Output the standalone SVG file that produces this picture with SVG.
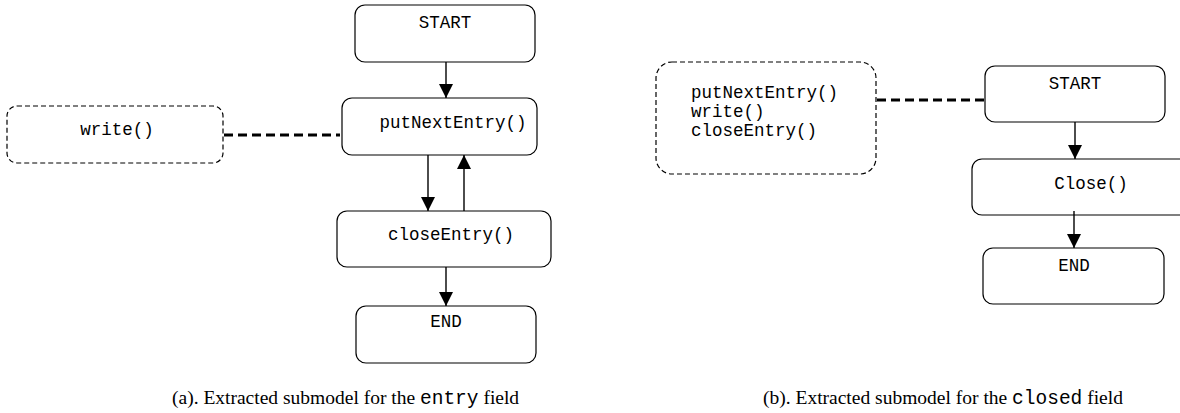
<svg xmlns="http://www.w3.org/2000/svg" width="1180" height="413" viewBox="0 0 1180 413">
  <defs>
    <marker id="arrow" viewBox="0 0 14 14" refX="14" refY="7" markerWidth="14" markerHeight="14" markerUnits="userSpaceOnUse" orient="auto">
      <path d="M0,0 L14,7 L0,14 Z" fill="#000"/>
    </marker>
    <style>
      .state { fill: #fff; stroke: #000; stroke-width: 1.2; }
      .note { fill: #fff; stroke: #000; stroke-width: 1.2; stroke-dasharray: 5 3; }
      .label { font-family: "Liberation Mono", "Courier New", monospace; font-size: 17.5px; fill: #000; }
      .flow { stroke: #000; stroke-width: 1.4; fill: none; marker-end: url(#arrow); }
      .link { stroke: #000; stroke-width: 3; fill: none; stroke-dasharray: 9 5; }
      .caption { font-family: "Liberation Serif", "Times New Roman", serif; font-size: 19.5px; fill: #000; }
      .mono { font-family: "Liberation Mono", "Courier New", monospace; }
    </style>
  </defs>

  <!-- (a) submodel for the entry field -->
  <g id="a-start">
    <rect class="state" x="355" y="5" width="180" height="57" rx="10"/>
    <text class="label" x="445" y="28" text-anchor="middle">START</text>
  </g>
  <g id="a-putNextEntry">
    <rect class="state" x="342" y="98" width="195" height="57" rx="10"/>
    <text class="label" x="453" y="128" text-anchor="middle">putNextEntry()</text>
  </g>
  <g id="a-closeEntry">
    <rect class="state" x="337" y="211" width="214" height="56" rx="10"/>
    <text class="label" x="451" y="240" text-anchor="middle">closeEntry()</text>
  </g>
  <g id="a-end">
    <rect class="state" x="356" y="306" width="180" height="57" rx="10"/>
    <text class="label" x="446" y="327" text-anchor="middle">END</text>
  </g>
  <g id="a-write">
    <rect class="note" x="7" y="106" width="216" height="57" rx="10"/>
    <text class="label" x="117" y="135" text-anchor="middle">write()</text>
  </g>

  <!-- (b) submodel for the closed field -->
  <g id="b-calls">
    <rect class="note" x="656" y="62" width="220" height="112" rx="16"/>
    <text class="label" x="691" y="98">putNextEntry()</text>
    <text class="label" x="691" y="117">write()</text>
    <text class="label" x="691" y="136">closeEntry()</text>
  </g>
  <g id="b-start">
    <rect class="state" x="985" y="66" width="180" height="56" rx="10"/>
    <text class="label" x="1075" y="89" text-anchor="middle">START</text>
  </g>
  <g id="b-close">
    <rect class="state" x="972" y="159" width="220" height="56" rx="10"/>
    <text class="label" x="1091" y="189" text-anchor="middle">Close()</text>
  </g>
  <g id="b-end">
    <rect class="state" x="983" y="248" width="181" height="56" rx="10"/>
    <text class="label" x="1074" y="271" text-anchor="middle">END</text>
  </g>

  <g id="connectors">
    <line class="flow" x1="446" y1="62" x2="446" y2="98"/>
    <line class="flow" x1="428" y1="155" x2="428" y2="211"/>
    <line class="flow" x1="464" y1="211" x2="464" y2="155"/>
    <line class="flow" x1="446" y1="267" x2="446" y2="306"/>
    <line class="link" x1="224" y1="135" x2="340" y2="135"/>
    <line class="flow" x1="1075" y1="122" x2="1075" y2="159"/>
    <line class="flow" x1="1074" y1="211" x2="1074" y2="248"/>
    <line class="link" x1="877" y1="100" x2="985" y2="100"/>
  </g>

  <!-- captions -->
  <text class="caption" x="172" y="404">(a). Extracted submodel for the <tspan class="mono">entry</tspan> field</text>
  <text class="caption" x="763" y="404">(b). Extracted submodel for the <tspan class="mono">closed</tspan> field</text>
</svg>
